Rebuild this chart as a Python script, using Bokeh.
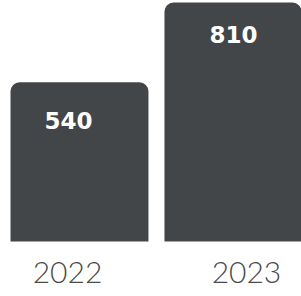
from bokeh.plotting import figure
from bokeh.models import ColumnDataSource, Range1d
from bokeh.core.properties import value
from bokeh.embed import file_html
from bokeh.resources import INLINE

years = ["2022", "2023"]
counts = [540, 810]
xpos = [0, 1]

src = ColumnDataSource(dict(
    x=xpos, top=counts, year=years, label=[str(c) for c in counts],
    lab_dx=[-11, 0], lab_dy=[38, 32], yr_dx=[-12, 13],
))

p = figure(width=301, height=296, x_range=Range1d(-0.513, 1.442), y_range=Range1d(-186, 817),
           output_backend="svg", toolbar_location=None, min_border=0)
p.axis.visible = False
p.grid.visible = False
p.outline_line_color = None
p.background_fill_color = "white"
p.border_fill_color = "white"

p.vbar(x="x", top="top", bottom=0, width=0.896, source=src, fill_color="#434649",
       line_color=None, border_radius=(9, 9, 0, 0))

p.text(x="x", y="top", text="label", source=src, x_offset="lab_dx", y_offset="lab_dy",
       text_align="center", text_baseline="middle", text_color="white",
       text_font=value("DejaVu Sans"), text_font_style="bold", text_font_size="23px")

p.text(x="x", y=0, text="year", source=src, x_offset="yr_dx", y_offset=31,
       text_align="center", text_baseline="middle", text_color="#4a4a4a",
       text_font=value("Lato Light"), text_font_size="30px")

open("out.html", "w").write(file_html(p, INLINE))
